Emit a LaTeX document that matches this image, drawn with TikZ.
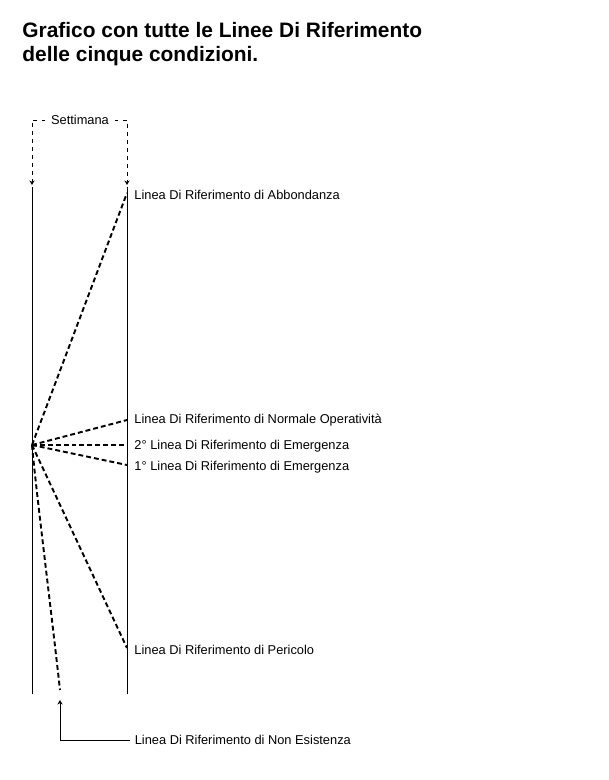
\documentclass[tikz,border=0pt]{standalone}
\usepackage{fontspec}
\setmainfont{Liberation Sans}
\usetikzlibrary{arrows.meta}
\tikzset{
  tratt/.style={dash pattern=on 2.8pt off 1.7pt, line width=1.1pt},
  guida/.style={dash pattern=on 2.2pt off 2.4pt},
  punta/.style={-{Stealth[length=2.6pt,width=3pt]}},
  lbl/.style={anchor=base west, inner xsep=4pt, inner ysep=0pt, font=\fontsize{7.3}{8}\selectfont},
  titolo/.style={anchor=base west, inner sep=0pt, font=\bfseries\fontsize{11.9}{14}\selectfont}
}
\begin{document}
\begin{tikzpicture}[x=0.02cm,y=-0.02cm,line width=0.5pt]
  \def\rif#1#2#3#4{
    \coordinate (#1) at (127,#2);
    \node[lbl] (#1txt) at (127,#3+4.5) {#4};
    \draw[tratt] (o) -- (#1);
  }
  \useasboundingbox (0,0) rectangle (608,780);
  \node[titolo] (tit1) at (22,38) {Grafico con tutte le Linee Di Riferimento};
  \node[titolo] (tit2) at (22,62) {delle cinque condizioni.};
  % le due linee della settimana
  \draw (32,187) coordinate (sxalto) -- (32,694) coordinate (sxbasso);
  \draw (127,187) coordinate (dxalto) -- (127,694) coordinate (dxbasso);
  \coordinate (sxpunta) at (32,185);
  \coordinate (dxpunta) at (127,185);
  \node[inner xsep=3pt, inner ysep=0pt, font=\fontsize{7.3}{8}\selectfont] (sett) at (80,120) {Settimana};
  \draw[guida,punta] (sett.west) -| (sxpunta);
  \draw[guida,punta] (sett.east) -| (dxpunta);
  % linee di riferimento
  \coordinate (o) at (32,445);
  \rif{abb}{193}{195}{Linea Di Riferimento di Abbondanza}
  \rif{norm}{420}{419}{Linea Di Riferimento di Normale Operatività}
  \rif{emdue}{445}{445}{2° Linea Di Riferimento di Emergenza}
  \rif{emuno}{465}{466}{1° Linea Di Riferimento di Emergenza}
  \rif{per}{648}{650}{Linea Di Riferimento di Pericolo}
  \coordinate (nonfine) at (60,690);
  \draw[tratt] (o) .. controls (36,490) and (50,600) .. (nonfine);
  \coordinate (nepunta) at (60,700);
  \node[lbl, inner xsep=2.5pt, anchor=west] (nontxt) at (130,740) {Linea Di Riferimento di Non Esistenza};
  \draw[punta] (nontxt.west) -| (nepunta);
\end{tikzpicture}
\end{document}
